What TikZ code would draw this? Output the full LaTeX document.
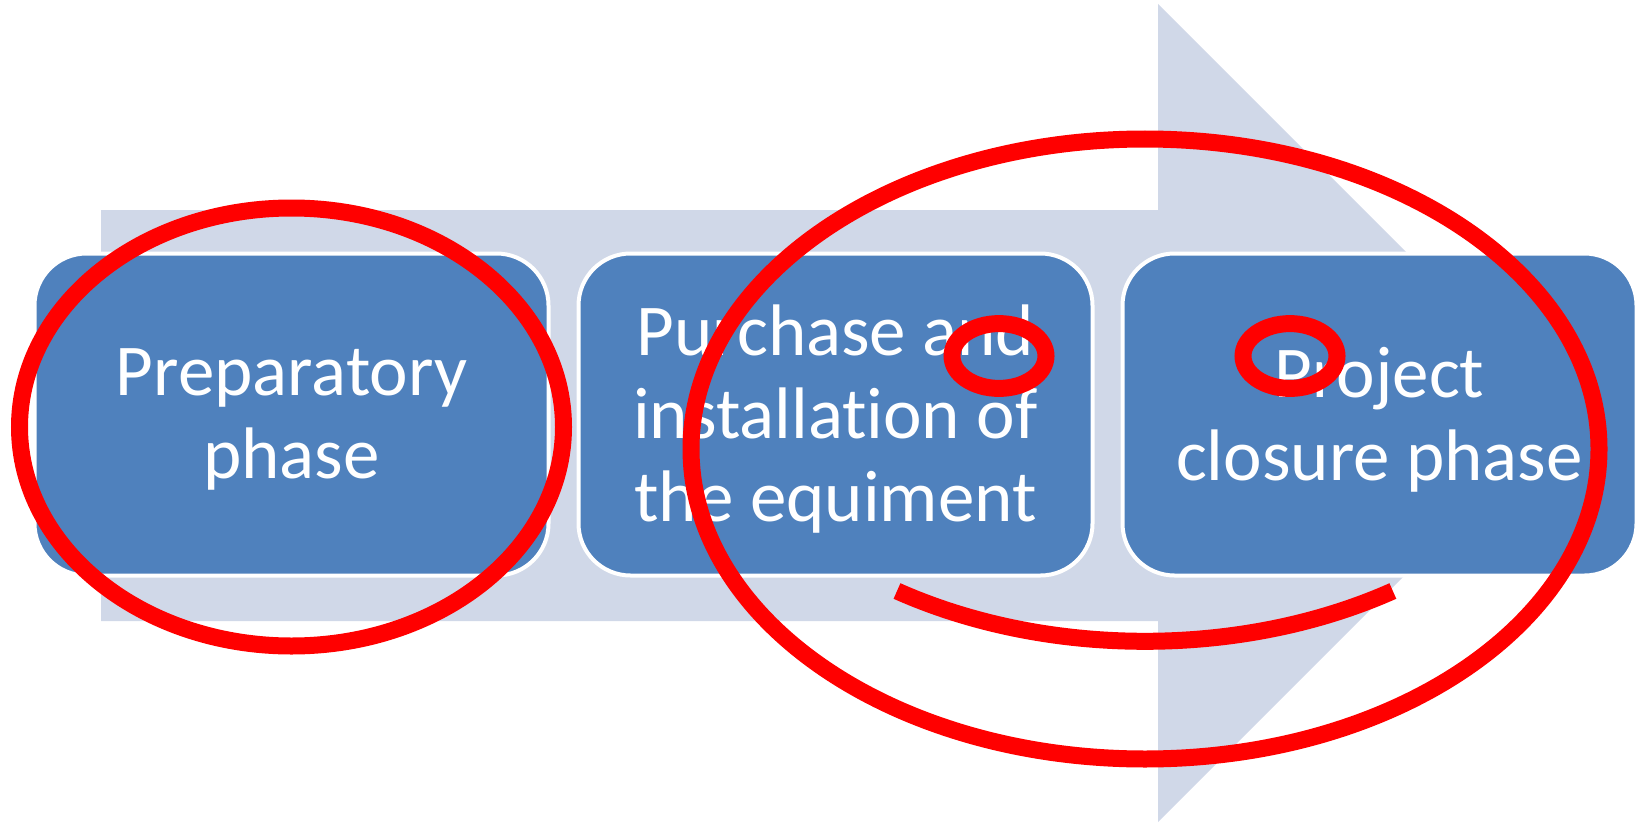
\documentclass[tikz,border=0pt]{standalone}
\usepackage{fontspec}
\setmainfont{Carlito}[Ligatures=CommonOff]
\usetikzlibrary{positioning}
\definecolor{phaseblue}{HTML}{4F81BD}
\definecolor{arrowgrey}{HTML}{D0D8E8}

\begin{document}
\begin{tikzpicture}[ x=0.5pt, y=-0.5pt, phase/.style={ draw=white,
    line width=2pt, fill=phaseblue, rounded corners=26pt,
    minimum width=257pt, minimum height=161pt, inner sep=0pt },
  phasetext/.style={ text=white, align=center, inner sep=0pt,
    font=\fontsize{36.5}{41.5}\selectfont },
  marker/.style={ draw=red, line width=8.5pt } ]
  \useasboundingbox (0,0) rectangle (1638,824);
  % background arrow
  \fill[arrowgrey] (101,210) -- (1158,210) -- (1158,4) -- (1567,413)
    -- (1158,822) -- (1158,621) -- (101,621) -- cycle;
  \node[phase] (prep) at (291.5,414.5) {};
  \node[phase,right=13pt of prep] (purchase) {};
  \node[phase,right=13pt of purchase] (closure) {};
  \node[phasetext] (prep-text) at ([yshift=-2.5pt]prep.center) {Preparatory\\phase};
  \node[phasetext] (purchase-text) at ([yshift=-2.5pt]purchase.center) {Purchase and\\installation of\\the equiment};
  \node[phasetext] (closure-text) at ([yshift=-2.5pt]closure.center) {Project\\closure phase};
  % red marks
  \draw[marker] (291.5,427) ellipse [x radius=272, y radius=219];
  \draw[marker] (1145,449) ellipse [x radius=454, y radius=310];
  \coordinate (arcstart) at (897,591);
  \draw[marker] (arcstart) arc [start angle=123.1, end angle=56.9,
    x radius=454, y radius=310];
  \foreach \x in {999,1290}
  \draw[marker] (\x,356) ellipse [x radius=47, y radius=32.4];
\end{tikzpicture}
\end{document}
